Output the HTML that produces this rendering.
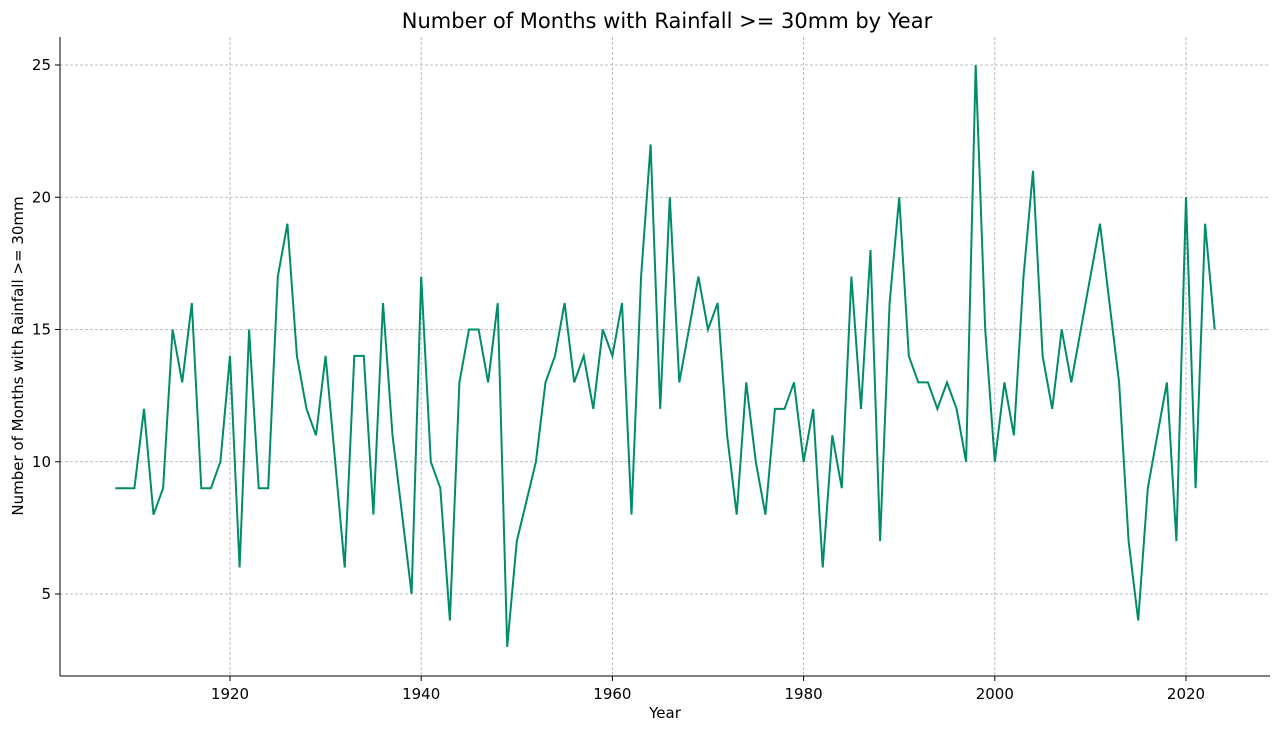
<!DOCTYPE html>
<html><head><meta charset="utf-8"><style>
body{margin:0;background:#fff;font-family:"Liberation Sans","DejaVu Sans",sans-serif}
svg text{font-family:"DejaVu Sans","Liberation Sans",sans-serif;fill:#000}
</style></head><body>
<svg id="chart" width="1280" height="732">
<text x="667" y="28" text-anchor="middle" font-size="21">Number of Months with Rainfall &gt;= 30mm by Year</text>
<g id="grid"></g>
<g id="axes"></g>
<path id="line" fill="none" stroke="#008c69" stroke-width="2"/>
<text x="665" y="718" text-anchor="middle" font-size="15">Year</text>
<text transform="translate(23,356) rotate(-90)" text-anchor="middle" font-size="15">Number of Months with Rainfall &gt;= 30mm</text>
</svg>
<script>
const years=[];for(let y=1908;y<=2023;y++)years.push(y);
const months=[9,9,9,12,8,9,15,13,16,9,9,10,14,6,15,9,9,17,19,14,12,11,14,10,6,14,14,8,16,11,8,5,17,10,9,4,13,15,15,13,16,3,7,8.5,10,13,14,16,13,14,12,15,14,16,8,17,22,12,20,13,15,17,15,16,11,8,13,10,8,12,12,13,10,12,6,11,9,17,12,18,7,16,20,14,13,13,12,13,12,10,25,15,10,13,11,17,21,14,12,15,13,15,17,19,16,13,7,4,9,11,13,7,20,9,19,15];
const xTicks=[1920,1940,1960,1980,2000,2020];
const yTicks=[5,10,15,20,25];
const L=60,R=1270,T=37,B=676;
const xs=v=>230+(v-1920)*(1186-230)/100;
const ys=v=>594-(v-5)*(594-65)/20;
const NS='http://www.w3.org/2000/svg';
const grid=document.getElementById('grid'),axes=document.getElementById('axes');
function mk(tag,attrs,parent){const e=document.createElementNS(NS,tag);for(const k in attrs)e.setAttribute(k,attrs[k]);parent.appendChild(e);return e;}
xTicks.forEach(t=>{const x=xs(t);
 const g=mk('line',{x1:x,x2:x,y1:T,y2:B,stroke:'#aaa','stroke-width':0.8,'stroke-dasharray':'3,2'},grid);
 
 
 const tk=mk('line',{x1:x,x2:x,y1:B,y2:B+5,stroke:'#000'},axes);
 
 
 const tx=mk('text',{x:x,y:B+23,'text-anchor':'middle','font-size':15},axes);tx.textContent=t;
 
 
});
yTicks.forEach(t=>{const y=ys(t);
 const g=mk('line',{x1:L,x2:R,y1:y,y2:y,stroke:'#aaa','stroke-width':0.8,'stroke-dasharray':'3,2'},grid);
 
 
 const tk=mk('line',{x1:L-5,x2:L,y1:y,y2:y,stroke:'#000'},axes);
 
 
 const tx=mk('text',{x:L-9,y:y+5,'text-anchor':'end','font-size':15},axes);tx.textContent=t;
 
 
});
const la=mk('line',{x1:L,x2:L,y1:T,y2:B,stroke:'#000','stroke-width':1},axes);


const ba=mk('line',{x1:L,x2:R,y1:B,y2:B,stroke:'#000','stroke-width':1},axes);


document.getElementById('line').setAttribute('d',years.map((y,i)=>(i?'L':'M')+xs(y).toFixed(1)+','+ys(months[i]).toFixed(1)).join(''));
</script>
</body></html>
